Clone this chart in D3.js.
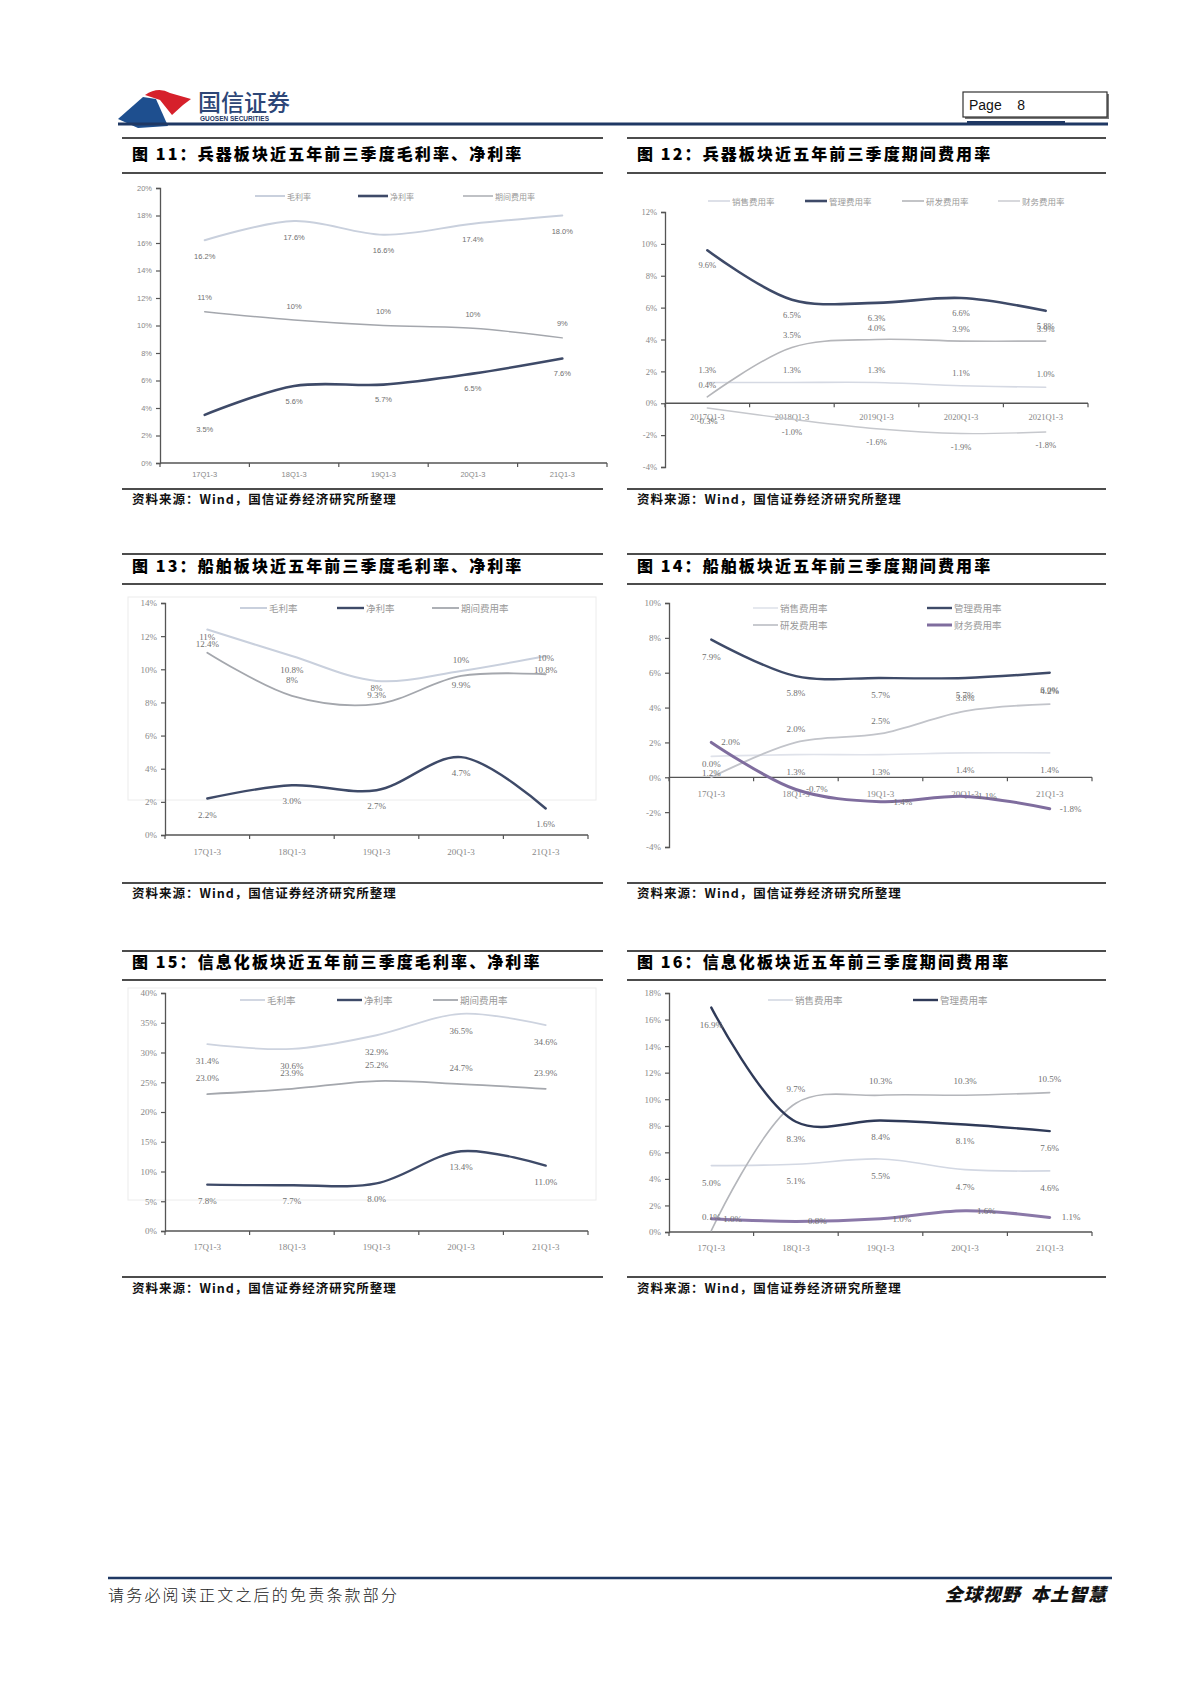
<!DOCTYPE html>
<html><head><meta charset="utf-8">
<script src="https://cdn.jsdelivr.net/npm/d3@7/dist/d3.min.js"></script>
<style>body{margin:0;background:#fff} svg{display:block}</style>
</head><body>
<svg id="page" width="1200" height="1698"></svg>
<script>
// ---------- DATA ----------
const catsShort = ["17Q1-3","18Q1-3","19Q1-3","20Q1-3","21Q1-3"];
const catsLong  = ["2017Q1-3","2018Q1-3","2019Q1-3","2020Q1-3","2021Q1-3"];

// 图11 兵器 毛利率/净利率/期间费用率
const gross11 = [16.2,17.6,16.6,17.4,18.0];
const net11   = [3.5,5.6,5.7,6.5,7.6];
const exp11   = [11.0,10.4,10.0,9.8,9.1];
// 图12 兵器 期间费用率
const sell12  = [1.3,1.3,1.3,1.1,1.0];
const admin12 = [9.6,6.5,6.3,6.6,5.8];
const rd12    = [0.4,3.5,4.0,3.9,3.9];
const fin12   = [-0.3,-1.0,-1.6,-1.9,-1.8];
// 图13 船舶
const gross13 = [12.4,10.8,9.3,9.9,10.8];
const net13   = [2.2,3.0,2.7,4.7,1.6];
const exp13   = [11.0,8.4,7.9,9.6,9.7];
// 图14 船舶 期间费用率
const sell14  = [1.2,1.3,1.3,1.4,1.4];
const admin14 = [7.9,5.8,5.7,5.7,6.0];
const rd14    = [0.0,2.0,2.5,3.8,4.2];
const fin14   = [2.0,-0.7,-1.4,-1.1,-1.8];
// 图15 信息化
const gross15 = [31.4,30.6,32.9,36.5,34.6];
const net15   = [7.8,7.7,8.0,13.4,11.0];
const exp15   = [23.0,23.9,25.2,24.7,23.9];
// 图16 信息化 期间费用率
const sell16  = [5.0,5.1,5.5,4.7,4.6];
const admin16 = [16.9,8.3,8.4,8.1,7.6];
const rd16    = [0.1,9.7,10.3,10.3,10.5];
const fin16   = [1.0,0.8,1.0,1.6,1.1];

const titles = [
  "图 11：兵器板块近五年前三季度毛利率、净利率",
  "图 12：兵器板块近五年前三季度期间费用率",
  "图 13：船舶板块近五年前三季度毛利率、净利率",
  "图 14：船舶板块近五年前三季度期间费用率",
  "图 15：信息化板块近五年前三季度毛利率、净利率",
  "图 16：信息化板块近五年前三季度期间费用率"
];
const sourceText = "资料来源：Wind，国信证券经济研究所整理";

// ---------- DRAW ----------
const svg = d3.select("#page");
const CJK = "'Noto Sans CJK SC','Noto Sans',sans-serif";
const NAVY = "#1f3864";

// header logo
svg.append("path").attr("d","M118,119 L143,97 L156,99 L168,126 L138,128 Z").attr("fill","#1e4f8f");
svg.append("path").attr("d","M145,95 Q158,86 170,93 L191,99 L183,105 L172,115 L160,100 Z").attr("fill","#d6202b");
svg.append("text").attr("x",198).attr("y",111).attr("font-family",CJK).attr("font-size",23).attr("font-weight",500)
  .attr("fill","#2d4677").text("国信证券");
svg.append("text").attr("x",200).attr("y",121).attr("font-family","'Liberation Sans',sans-serif").attr("font-size",6.5)
  .attr("font-weight",700).attr("fill",NAVY).text("GUOSEN SECURITIES");
svg.append("line").attr("x1",118).attr("x2",1108).attr("y1",124).attr("y2",124).attr("stroke",NAVY).attr("stroke-width",3);
svg.append("line").attr("x1",967).attr("x2",1065).attr("y1",122).attr("y2",122).attr("stroke",NAVY).attr("stroke-width",2);
svg.append("rect").attr("x",965).attr("y",94).attr("width",144).attr("height",25).attr("fill","#777");
svg.append("rect").attr("x",963).attr("y",92).attr("width",144).attr("height",25).attr("fill","#fff")
  .attr("stroke","#333").attr("stroke-width",1.2);
svg.append("text").attr("x",969).attr("y",110).attr("font-family","'Liberation Sans',Arial,sans-serif").attr("font-size",14)
  .attr("fill","#111").text("Page    8").style("white-space","pre");

// footer
svg.append("line").attr("x1",108).attr("x2",1112).attr("y1",1578).attr("y2",1578).attr("stroke",NAVY).attr("stroke-width",2.5);
svg.append("text").attr("x",108).attr("y",1601).attr("font-family",CJK).attr("font-size",16).attr("font-weight",300)
  .attr("letter-spacing",2.2).attr("fill","#222").text("请务必阅读正文之后的免责条款部分");
svg.append("text").attr("x",1107).attr("y",1601).attr("text-anchor","end").attr("font-family",CJK).attr("font-size",18)
  .attr("font-weight",900).attr("font-style","italic").attr("letter-spacing",1).attr("fill","#111")
  .text("全球视野  本土智慧").style("white-space","pre");

// panels (title bars and source lines)
const panels = [
  {x0:122,x1:603,top:138,tc:153,tb:173,sr:489,st:498},
  {x0:627,x1:1106,top:138,tc:153,tb:173,sr:489,st:498},
  {x0:122,x1:603,top:554,tc:565,tb:584,sr:883,st:892},
  {x0:627,x1:1106,top:554,tc:565,tb:584,sr:883,st:892},
  {x0:122,x1:603,top:951,tc:961,tb:980,sr:1277,st:1287},
  {x0:627,x1:1106,top:951,tc:961,tb:980,sr:1277,st:1287}
];
panels.forEach((p,i)=>{
  const g = svg.append("g");
  [p.top,p.tb,p.sr].forEach(yy=>g.append("line").attr("x1",p.x0).attr("x2",p.x1).attr("y1",yy).attr("y2",yy)
     .attr("stroke","#111").attr("stroke-width",1.3));
  g.append("text").attr("x",p.x0+10).attr("y",p.tc).attr("dominant-baseline","central")
    .attr("font-family",CJK).attr("font-size",16).attr("font-weight",900).attr("letter-spacing",2.1)
    .attr("fill","#000").text(titles[i]);
  g.append("text").attr("x",p.x0+10).attr("y",p.st).attr("dominant-baseline","central")
    .attr("font-family",CJK).attr("font-size",12.5).attr("font-weight",700).attr("letter-spacing",1)
    .attr("fill","#111").text(sourceText);
});

function drawChart(c){
  const g = svg.append("g");
  const x = d3.scalePoint().domain(c.cats).range([c.x0,c.x1]).padding(0.5);
  const xb = d3.scaleBand().domain(c.cats).range([c.x0,c.x1]);
  const y = d3.scaleLinear().domain(c.domain).range([c.yBottom,c.yTop]);
  const tickFont = c.serif ? "'Liberation Serif','DejaVu Serif',serif" : "'Liberation Sans',Arial,sans-serif";
  if (c.frame) g.append("rect").attr("x",c.frame[0]).attr("y",c.frame[1]).attr("width",c.frame[2]).attr("height",c.frame[3])
       .attr("fill","none").attr("stroke","#ececec").attr("stroke-width",1);
  // y axis
  const yAx = d3.axisLeft(y).tickValues(d3.range(c.domain[0],c.domain[1]+0.001,c.step))
      .tickFormat(d=>d+"%").tickSize(4).tickPadding(4);
  const ya = g.append("g").attr("transform",`translate(${c.x0},0)`).call(yAx);
  ya.select(".domain").attr("stroke","#555").attr("stroke-width",1.3);
  ya.selectAll(".tick line").attr("stroke","#555").attr("stroke-width",1.2);
  ya.selectAll("text").attr("font-family",tickFont).attr("font-size",c.tickSize).attr("fill","#888");
  // x axis at zero
  const y0 = y(0);
  g.append("line").attr("x1",c.x0).attr("x2",c.x1).attr("y1",y0).attr("y2",y0).attr("stroke","#555").attr("stroke-width",1.3);
  const bounds = c.cats.map(k=>xb(k)).concat([c.x1]);
  g.selectAll(".bt").data(bounds).enter().append("line").attr("x1",d=>d).attr("x2",d=>d)
    .attr("y1",y0).attr("y2",y0+4).attr("stroke","#555").attr("stroke-width",1.2);
  g.selectAll(".cl").data(c.cats).enter().append("text").attr("x",d=>x(d)).attr("y",y0+c.catDy)
    .attr("text-anchor","middle").attr("dominant-baseline","central").attr("font-family",tickFont)
    .attr("font-size",c.tickSize).attr("fill","#888").text(d=>d);
  // series
  const line = d3.line().x((d,i)=>x(c.cats[i])).y(d=>y(d)).curve(d3.curveCatmullRom.alpha(0.5));
  c.series.forEach(s=>{
    g.append("path").attr("d",line(s.values)).attr("fill","none").attr("stroke",s.color)
      .attr("stroke-width",s.width).attr("stroke-linecap","round").attr("stroke-linejoin","round");
  });
  c.series.forEach(s=>{
    const f = s.fmt || (v=>v.toFixed(1)+"%");
    g.selectAll(null).data(s.values).enter().append("text")
      .attr("x",(d,i)=>x(c.cats[i])+(s.ldx||0)).attr("y",d=>y(d)+(s.ldy||0))
      .attr("text-anchor",s.ldx?"start":"middle").attr("dominant-baseline","central")
      .attr("font-family",tickFont).attr("font-size",c.labelSize).attr("fill","#707070").text(f);
  });
  // legend
  c.legend.forEach(l=>{
    const s = c.series[l.s];
    g.append("line").attr("x1",l.x).attr("x2",l.x+c.legLen).attr("y1",l.y).attr("y2",l.y)
      .attr("stroke",s.color).attr("stroke-width",s.width);
    g.append("text").attr("x",l.x+c.legLen+2).attr("y",l.y).attr("dominant-baseline","central")
      .attr("font-family",CJK).attr("font-size",c.legSize).attr("fill","#999").text(s.name);
  });
}

const intFmt = v=>Math.round(v)+"%";
const cLight = "#c9d0dd", cDark = "#3e4a68", cGray = "#a4a7ad", cPurple = "#7f6d9e";

drawChart({cats:catsShort,x0:160,x1:607,yTop:188,yBottom:463,domain:[0,20],step:2,catDy:11,serif:false,
  tickSize:7.5,labelSize:7.5,legLen:30,legSize:8,frame:null,
  series:[
    {name:"毛利率",values:gross11,color:cLight,width:2,ldy:16},
    {name:"净利率",values:net11,color:cDark,width:2.6,ldy:15},
    {name:"期间费用率",values:exp11,color:cGray,width:1.4,ldy:-14,fmt:intFmt}],
  legend:[{s:0,x:255,y:196},{s:1,x:358,y:196},{s:2,x:463,y:196}]});

drawChart({cats:catsLong,x0:665,x1:1088,yTop:212,yBottom:467,domain:[-4,12],step:2,catDy:14,serif:true,
  tickSize:8.5,labelSize:8.5,legLen:22,legSize:8.5,frame:null,
  series:[
    {name:"销售费用率",values:sell12,color:"#d5d9e3",width:1.6,ldy:-13},
    {name:"管理费用率",values:admin12,color:cDark,width:2.6,ldy:15},
    {name:"研发费用率",values:rd12,color:"#b5b6ba",width:1.6,ldy:-12},
    {name:"财务费用率",values:fin12,color:"#c6c8cd",width:1.4,ldy:13}],
  legend:[{s:0,x:708,y:201},{s:1,x:805,y:201},{s:2,x:902,y:201},{s:3,x:998,y:201}]});

drawChart({cats:catsShort,x0:165,x1:588,yTop:603,yBottom:835,domain:[0,14],step:2,catDy:17,serif:true,
  tickSize:9,labelSize:9,legLen:27,legSize:9.5,frame:[128,597,468,203],
  series:[
    {name:"毛利率",values:gross13,color:cLight,width:2,ldy:14},
    {name:"净利率",values:net13,color:cDark,width:2.4,ldy:16},
    {name:"期间费用率",values:exp13,color:cGray,width:1.8,ldy:-16,fmt:intFmt}],
  legend:[{s:0,x:240,y:608},{s:1,x:337,y:608},{s:2,x:432,y:608}]});

drawChart({cats:catsShort,x0:669,x1:1092,yTop:603,yBottom:847,domain:[-4,10],step:2,catDy:17,serif:true,
  tickSize:9,labelSize:9,legLen:25,legSize:9.5,frame:null,
  series:[
    {name:"销售费用率",values:sell14,color:"#dfe2ea",width:1.6,ldy:17},
    {name:"管理费用率",values:admin14,color:cDark,width:2.4,ldy:17},
    {name:"研发费用率",values:rd14,color:"#c2c4ca",width:1.8,ldy:-13},
    {name:"财务费用率",values:fin14,color:cPurple,width:3,ldx:10}],
  legend:[{s:0,x:753,y:608},{s:1,x:927,y:608},{s:2,x:753,y:625},{s:3,x:927,y:625}]});

drawChart({cats:catsShort,x0:165,x1:588,yTop:993,yBottom:1231,domain:[0,40],step:5,catDy:16,serif:true,
  tickSize:9,labelSize:9,legLen:25,legSize:9.5,frame:[128,988,468,212],
  series:[
    {name:"毛利率",values:gross15,color:"#cdd3df",width:1.8,ldy:17},
    {name:"净利率",values:net15,color:cDark,width:2.4,ldy:16},
    {name:"期间费用率",values:exp15,color:cGray,width:1.8,ldy:-16}],
  legend:[{s:0,x:240,y:1000},{s:1,x:337,y:1000},{s:2,x:433,y:1000}]});

drawChart({cats:catsShort,x0:669,x1:1092,yTop:993,yBottom:1232,domain:[0,18],step:2,catDy:16,serif:true,
  tickSize:9,labelSize:9,legLen:25,legSize:9.5,frame:null,
  series:[
    {name:"销售费用率",values:sell16,color:"#d3d8e3",width:1.6,ldy:17},
    {name:"研发费用率",values:rd16,color:"#b4b6bb",width:1.6,ldy:-14},
    {name:"管理费用率",values:admin16,color:"#2f3a58",width:2.4,ldy:17},
    {name:"财务费用率",values:fin16,color:"#8a78a8",width:3,ldx:12}],
  legend:[{s:0,x:768,y:1000},{s:2,x:913,y:1000}]});
</script>
</body></html>
